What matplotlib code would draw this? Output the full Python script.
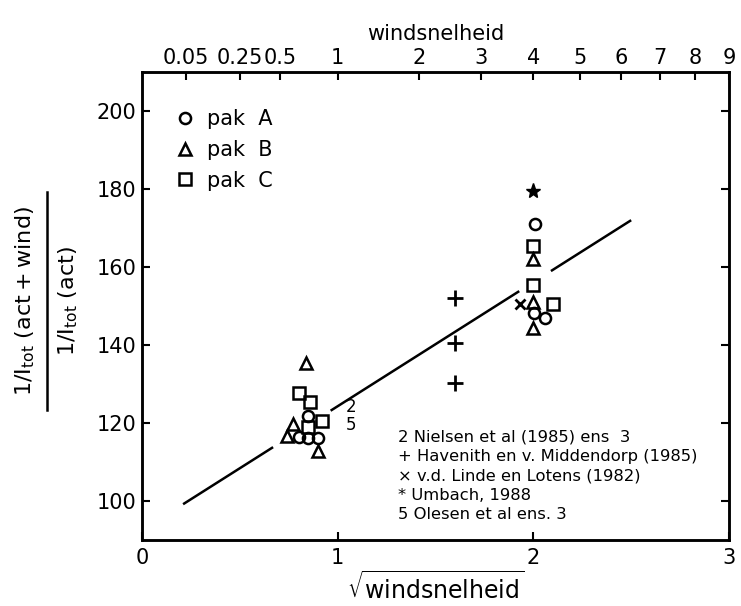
import numpy as np
import matplotlib
matplotlib.use("Agg")
import matplotlib.pyplot as plt
from matplotlib.lines import Line2D

# ---- data (x = sqrt(windsnelheid)) ----
pakA_x = [0.85, 0.80, 0.85, 0.90, 2.01, 2.005, 2.06]
pakA_y = [121.7, 116.4, 116.1, 116.1, 171.1, 148.1, 147.0]
pakB_x = [0.84, 0.77, 0.74, 0.90, 2.00, 2.00, 2.00]
pakB_y = [135.4, 119.8, 116.7, 112.9, 162.0, 151.0, 144.4]
pakC_x = [0.80, 0.86, 0.92, 0.85, 2.00, 2.00, 2.10]
pakC_y = [127.7, 125.5, 120.6, 118.9, 165.4, 155.5, 150.6]
havenith_x = [1.60, 1.60, 1.60]
havenith_y = [152.1, 140.4, 130.3]
linde_x = [1.93]
linde_y = [150.4]
umbach_x = [2.00]
umbach_y = [179.4]
nielsen_xy = (1.07, 124.1)   # label "2"
olesen_xy = (1.07, 119.5)    # label "5"

fit_intercept = 92.5
fit_slope = 31.8
fit_segments = [(0.21, 0.67), (0.964, 1.928), (2.09, 2.50)]

y_ticks = [100, 120, 140, 160, 180, 200]
x_ticks = [0, 1, 2, 3]
wind_ticks = [0.05, 0.25, 0.5, 1, 2, 3, 4, 5, 6, 7, 8, 9]
wind_labels = ["0.05", "0.25", "0.5", "1", "2", "3", "4", "5", "6", "7", "8", "9"]

legend_labels = ["pak  A", "pak  B", "pak  C"]
notes = ["2 Nielsen et al (1985) ens  3",
         "+ Havenith en v. Middendorp (1985)",
         "\u00d7 v.d. Linde en Lotens (1982)",
         "* Umbach, 1988",
         "5 Olesen et al ens. 3"]

plt.rcParams['font.family'] = ['DejaVu Sans']
W, H = 741, 606
fig = plt.figure(figsize=(W / 100, H / 100), dpi=100)
L, R, B, T = 142, 729, 540, 72
ax = fig.add_axes([L / W, 1 - B / H, (R - L) / W, (B - T) / H])
ax.set_xlim(0, 3)
ax.set_ylim(90, 210)

mk = dict(linestyle='none', color='black', mfc='none', mew=1.8)
ax.plot(pakA_x, pakA_y, marker='o', ms=8, **mk)
ax.plot(pakB_x, pakB_y, marker='^', ms=9, **mk)
ax.plot(pakC_x, pakC_y, marker='s', ms=9, **mk)
ax.plot(havenith_x, havenith_y, marker='+', ms=11, linestyle='none', color='black', mew=2)
ax.plot(linde_x, linde_y, marker='x', ms=7, linestyle='none', color='black', mew=2)
ax.plot(umbach_x, umbach_y, marker='*', ms=11, linestyle='none', color='black')
ax.text(*nielsen_xy, "2", fontsize=12, ha='center', va='center')
ax.text(*olesen_xy, "5", fontsize=12, ha='center', va='center')

for x0, x1 in fit_segments:
    xs = np.array([x0, x1])
    ax.plot(xs, fit_intercept + fit_slope * xs, color='black', lw=1.8, solid_capstyle='butt')

# legend
handles = [Line2D([], [], marker='o', ms=8, **mk),
           Line2D([], [], marker='^', ms=9, **mk),
           Line2D([], [], marker='s', ms=9, **mk)]
ax.legend(handles, legend_labels, loc='upper left', bbox_to_anchor=(0.063, 0.921),
          frameon=False, fontsize=15, handlelength=0.6, handletextpad=0.75,
          labelspacing=0.52, borderaxespad=0, borderpad=0)

# notes
for i, s in enumerate(notes):
    ax.text((398 - L) / (R - L), 1 - (436.7 + i * 19.5 - T) / (B - T), s,
            transform=ax.transAxes, fontsize=11.8, ha='left', va='center')

# ticks / spines
for sp in ax.spines.values():
    sp.set_linewidth(1.8)
ax.set_xticks(x_ticks)
ax.set_xticklabels([str(v) for v in x_ticks])
ax.set_yticks(y_ticks)
ax.tick_params(direction='in', length=6, width=1.5, labelsize=15,
               right=True, top=False, pad=6)
ax.tick_params(axis='y', pad=4)

ax2 = ax.twiny()
ax2.set_xlim(ax.get_xlim())
ax2.set_xticks(np.sqrt(wind_ticks))
ax2.set_xticklabels(wind_labels)
ax2.tick_params(direction='in', length=6, width=1.5, labelsize=15, pad=3)
for sp in ax2.spines.values():
    sp.set_linewidth(1.8)
ax2.set_xlabel("windsnelheid", fontsize=15, labelpad=6)

ax.set_xlabel(r"$\sqrt{\mathrm{windsnelheid}}$", fontsize=17, labelpad=2)

# y label as fraction
cy = 1 - 301 / H
fig.text(25 / W, cy, r"$\mathrm{1/I_{tot}\ (act+wind)}$", rotation=90,
         fontsize=16, ha='center', va='center')
fig.text(68 / W, cy, r"$\mathrm{1/I_{tot}\ (act)}$", rotation=90,
         fontsize=16, ha='center', va='center')
fig.add_artist(Line2D([47.5 / W, 47.5 / W], [1 - 410 / H, 1 - 192 / H],
                      color='black', lw=1.8, transform=fig.transFigure))

fig.savefig("out.png", dpi=100)
